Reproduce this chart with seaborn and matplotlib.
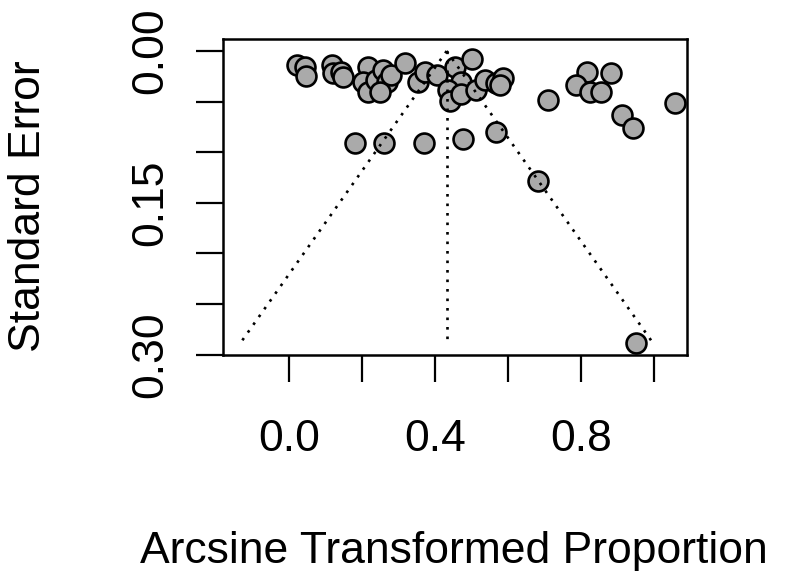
import numpy as np
import pandas as pd
import seaborn as sns
import matplotlib
matplotlib.use("Agg")
import matplotlib.pyplot as plt

# study estimates (arcsine transformed proportion) and their standard errors
effect = [0.021, 0.044, 0.048, 0.117, 0.121, 0.144, 0.149, 0.217, 0.204, 0.217,
          0.240, 0.258, 0.268, 0.249, 0.281, 0.318, 0.354, 0.373, 0.405, 0.455,
          0.501, 0.473, 0.436, 0.441, 0.473, 0.514, 0.537, 0.569, 0.587, 0.578,
          0.816, 0.884, 0.788, 0.825, 0.857, 1.060, 0.912, 0.943, 0.710, 0.181,
          0.260, 0.370, 0.476, 0.567, 0.683, 0.953]
std_err = [0.014, 0.016, 0.025, 0.014, 0.022, 0.021, 0.026, 0.016, 0.031, 0.040,
           0.029, 0.019, 0.031, 0.040, 0.024, 0.012, 0.031, 0.021, 0.024, 0.016,
           0.0075, 0.031, 0.039, 0.049, 0.042, 0.039, 0.029, 0.032, 0.027, 0.034,
           0.021, 0.022, 0.034, 0.040, 0.040, 0.051, 0.063, 0.076, 0.0485, 0.091,
           0.091, 0.091, 0.087, 0.080, 0.128, 0.289]

pooled = 0.4325      # pooled estimate (vertical line)
se_max = 0.289       # funnel extends to the largest standard error

x_ticks = [0.0, 0.2, 0.4, 0.6, 0.8, 1.0]
x_tick_labels = ["0.0", "", "0.4", "", "0.8", ""]
y_ticks = [0.0, 0.05, 0.10, 0.15, 0.20, 0.25, 0.30]
y_tick_labels = ["0.00", "", "", "0.15", "", "", "0.30"]

sns.set_theme(style="white")
plt.rcParams["font.family"] = ["Liberation Sans", "DejaVu Sans"]
plt.rcParams["text.color"] = "black"

df = pd.DataFrame({"effect": effect, "se": std_err})
funnel_se = np.array([0.0, se_max])
funnel = pd.DataFrame({
    "se": np.concatenate([funnel_se, funnel_se, funnel_se]),
    "x": np.concatenate([pooled - 1.96 * funnel_se, np.full(2, pooled), pooled + 1.96 * funnel_se]),
    "part": ["left"] * 2 + ["mid"] * 2 + ["right"] * 2,
})

fig = plt.figure(figsize=(7.86, 5.71), dpi=100)
ax = fig.add_axes([223 / 786, 1 - 354.5 / 571, 464 / 786, 316 / 571])

sns.scatterplot(data=df, x="effect", y="se", ax=ax, s=205, color="#aaaaaa",
                edgecolor="black", linewidth=1.9, zorder=2)
for part, sub in funnel.groupby("part"):
    ax.plot(sub["x"], sub["se"], color="black", lw=1.9,
            linestyle=(0, (1, 2.6)), zorder=3)

ax.set_xlim(-0.181, 1.0916)
ax.set_ylim(0.30, -0.0124)
ax.set_xticks(x_ticks)
ax.set_xticklabels(x_tick_labels)
ax.set_yticks(y_ticks)
ax.set_yticklabels(y_tick_labels, rotation=90, va="center")
ax.tick_params(axis="both", direction="out", length=19.4, width=1.6,
               labelsize=32, color="black", labelcolor="black",
               bottom=True, left=True)
ax.tick_params(axis="x", pad=27)
ax.tick_params(axis="y", pad=18)
ax.set_xlabel("")
ax.set_ylabel("")
for sp in ax.spines.values():
    sp.set_linewidth(1.8)
    sp.set_color("black")

fig.text(454 / 786, 1 - 563.5 / 571, "Arcsine Transformed Proportion",
         fontsize=32, ha="center", va="baseline", color="black")
fig.text(40 / 786, 1 - 206.5 / 571, "Standard Error", fontsize=32, color="black",
         rotation=90, ha="center", va="baseline", rotation_mode="anchor")

fig.savefig("out.png", dpi=100)
